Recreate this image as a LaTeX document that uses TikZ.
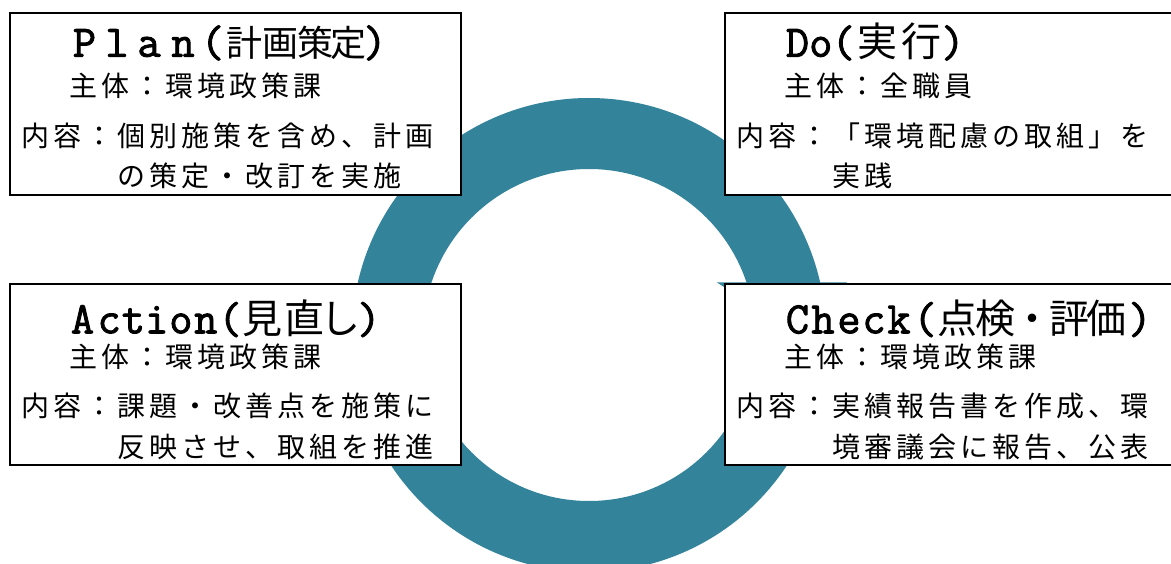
\documentclass[tikz,border=0pt]{standalone}
\usepackage{fontspec}
\setmainfont{Noto Sans CJK JP}
\newfontfamily\latinmono[FakeBold=2]{Latin Modern Mono}
\definecolor{ringteal}{RGB}{51,132,155}
\newcommand\lpr{(}
\newcommand\rpr{)}
\makeatletter
\def\cjkcells@end{}
\newcommand\cjkcells[2]{\def\cellwd{#1}\cjkcells@loop#2\cjkcells@end}
\def\cjkcells@loop#1{\ifx#1\cjkcells@end\else\makebox[\cellwd][c]{#1}\expandafter\cjkcells@loop\fi}
\makeatother
\tikzset{
  box/.style={draw=black, line width=2.5pt, fill=white, outer sep=0pt, inner sep=0pt, anchor=north west},
  txt/.style={anchor=base west, inner sep=0pt, outer sep=0pt},
  body/.style={txt, font=\fontsize{28pt}{28pt}\selectfont},
  tlat/.style={anchor=base, inner sep=0pt, outer sep=0pt, font=\latinmono\fontsize{45pt}{45pt}\selectfont},
  tcjk/.style={anchor=base, inner sep=0pt, outer sep=0pt, font=\fontsize{40pt}{40pt}\selectfont},
  tcjks/.style={tcjk, font=\fontsize{36pt}{36pt}\selectfont}
}
\begin{document}
\begin{tikzpicture}[x=1pt,y=-1pt]
\useasboundingbox (0,0) rectangle (1171,564);
\clip (0,0) rectangle (1171,564);
\fill[white] (0,0) rectangle (1171,564);
% cycle ring
\fill[ringteal, even odd rule] (589,335) circle[radius=237pt] (589,335) circle[radius=166pt];
\fill[ringteal] (717,282.5) -- (847,282.5) -- (782,324) -- cycle;
% boxes
\node[box, minimum width=451pt, minimum height=182pt] (plan) at (10,13) {};
\node[box, minimum width=460pt, minimum height=182pt] (do) at (725,13) {};
\node[box, minimum width=451pt, minimum height=181pt] (action) at (10,284) {};
\node[box, minimum width=460pt, minimum height=181pt] (check) at (725,284) {};
% Plan title
\foreach \gl/\gx [count=\i] in {P/84.5, l/117, a/149, n/183, \lpr/212.5, \rpr/375}
  \node[tlat] (planL\i) at (\gx,56.7) {\gl};
\foreach \gl/\gx [count=\i] in {計/244, 画/280, 策/315, 定/348}
  \node[tcjks] (planC\i) at (\gx,56.7) {\gl};
% Do title
\foreach \gl/\gx [count=\i] in {D/797.5, o/820.8, \lpr/843.3, \rpr/953}
  \node[tlat] (doL\i) at (\gx,56.7) {\gl};
\foreach \gl/\gx [count=\i] in {実/877.5, 行/921.7}
  \node[tcjk] (doC\i) at (\gx,56.7) {\gl};
% Action title
\foreach \gl/\gx [count=\i] in {A/82.5, c/109.2, t/133.4, i/156.7, o/180.9, n/205.8, \lpr/230, \rpr/369}
  \node[tlat] (actL\i) at (\gx,333.3) {\gl};
\foreach \gl/\gx [count=\i] in {見/262.5, 直/304, し/340}
  \node[tcjk] (actC\i) at (\gx,333.3) {\gl};
% Check title
\foreach \gl/\gx [count=\i] in {C/797.5, h/823, e/849, c/874, k/899, \lpr/925, \rpr/1140}
  \node[tlat] (chkL\i) at (\gx,333.3) {\gl};
\foreach \gl/\gx [count=\i] in {点/957, 検/995, ・/1032, 評/1069, 価/1106}
  \node[tcjk] (chkC\i) at (\gx,333.3) {\gl};
% Plan body
\node[body] (plan2) at (67.5,96.8) {\cjkcells{32pt}{主体：環境政策課}};
\node[body] (plan3) at (19.5,146.4) {\cjkcells{32pt}{内容：個別施策を含め、計画}};
\node[body] (plan4) at (115.5,187) {\cjkcells{32pt}{の策定・改訂を実施}};
% Do body
\node[body] (do2) at (782.5,96.8) {\cjkcells{32pt}{主体：全職員}};
\node[body] (do3) at (734.5,146.4) {\cjkcells{32pt}{内容：「環境配慮の取組」を}};
\node[body] (do4) at (830.5,187) {\cjkcells{32pt}{実践}};
% Action body
\node[body] (act2) at (67.5,367.5) {\cjkcells{32pt}{主体：環境政策課}};
\node[body] (act3) at (19.5,416.5) {\cjkcells{32pt}{内容：課題・改善点を施策に}};
\node[body] (act4) at (115.5,457) {\cjkcells{32pt}{反映させ、取組を推進}};
% Check body
\node[body] (chk2) at (782.5,367.5) {\cjkcells{32pt}{主体：環境政策課}};
\node[body] (chk3) at (734.5,416.5) {\cjkcells{32pt}{内容：実績報告書を作成、環}};
\node[body] (chk4) at (830.5,457) {\cjkcells{32pt}{境審議会に報告、公表}};
\end{tikzpicture}
\end{document}
